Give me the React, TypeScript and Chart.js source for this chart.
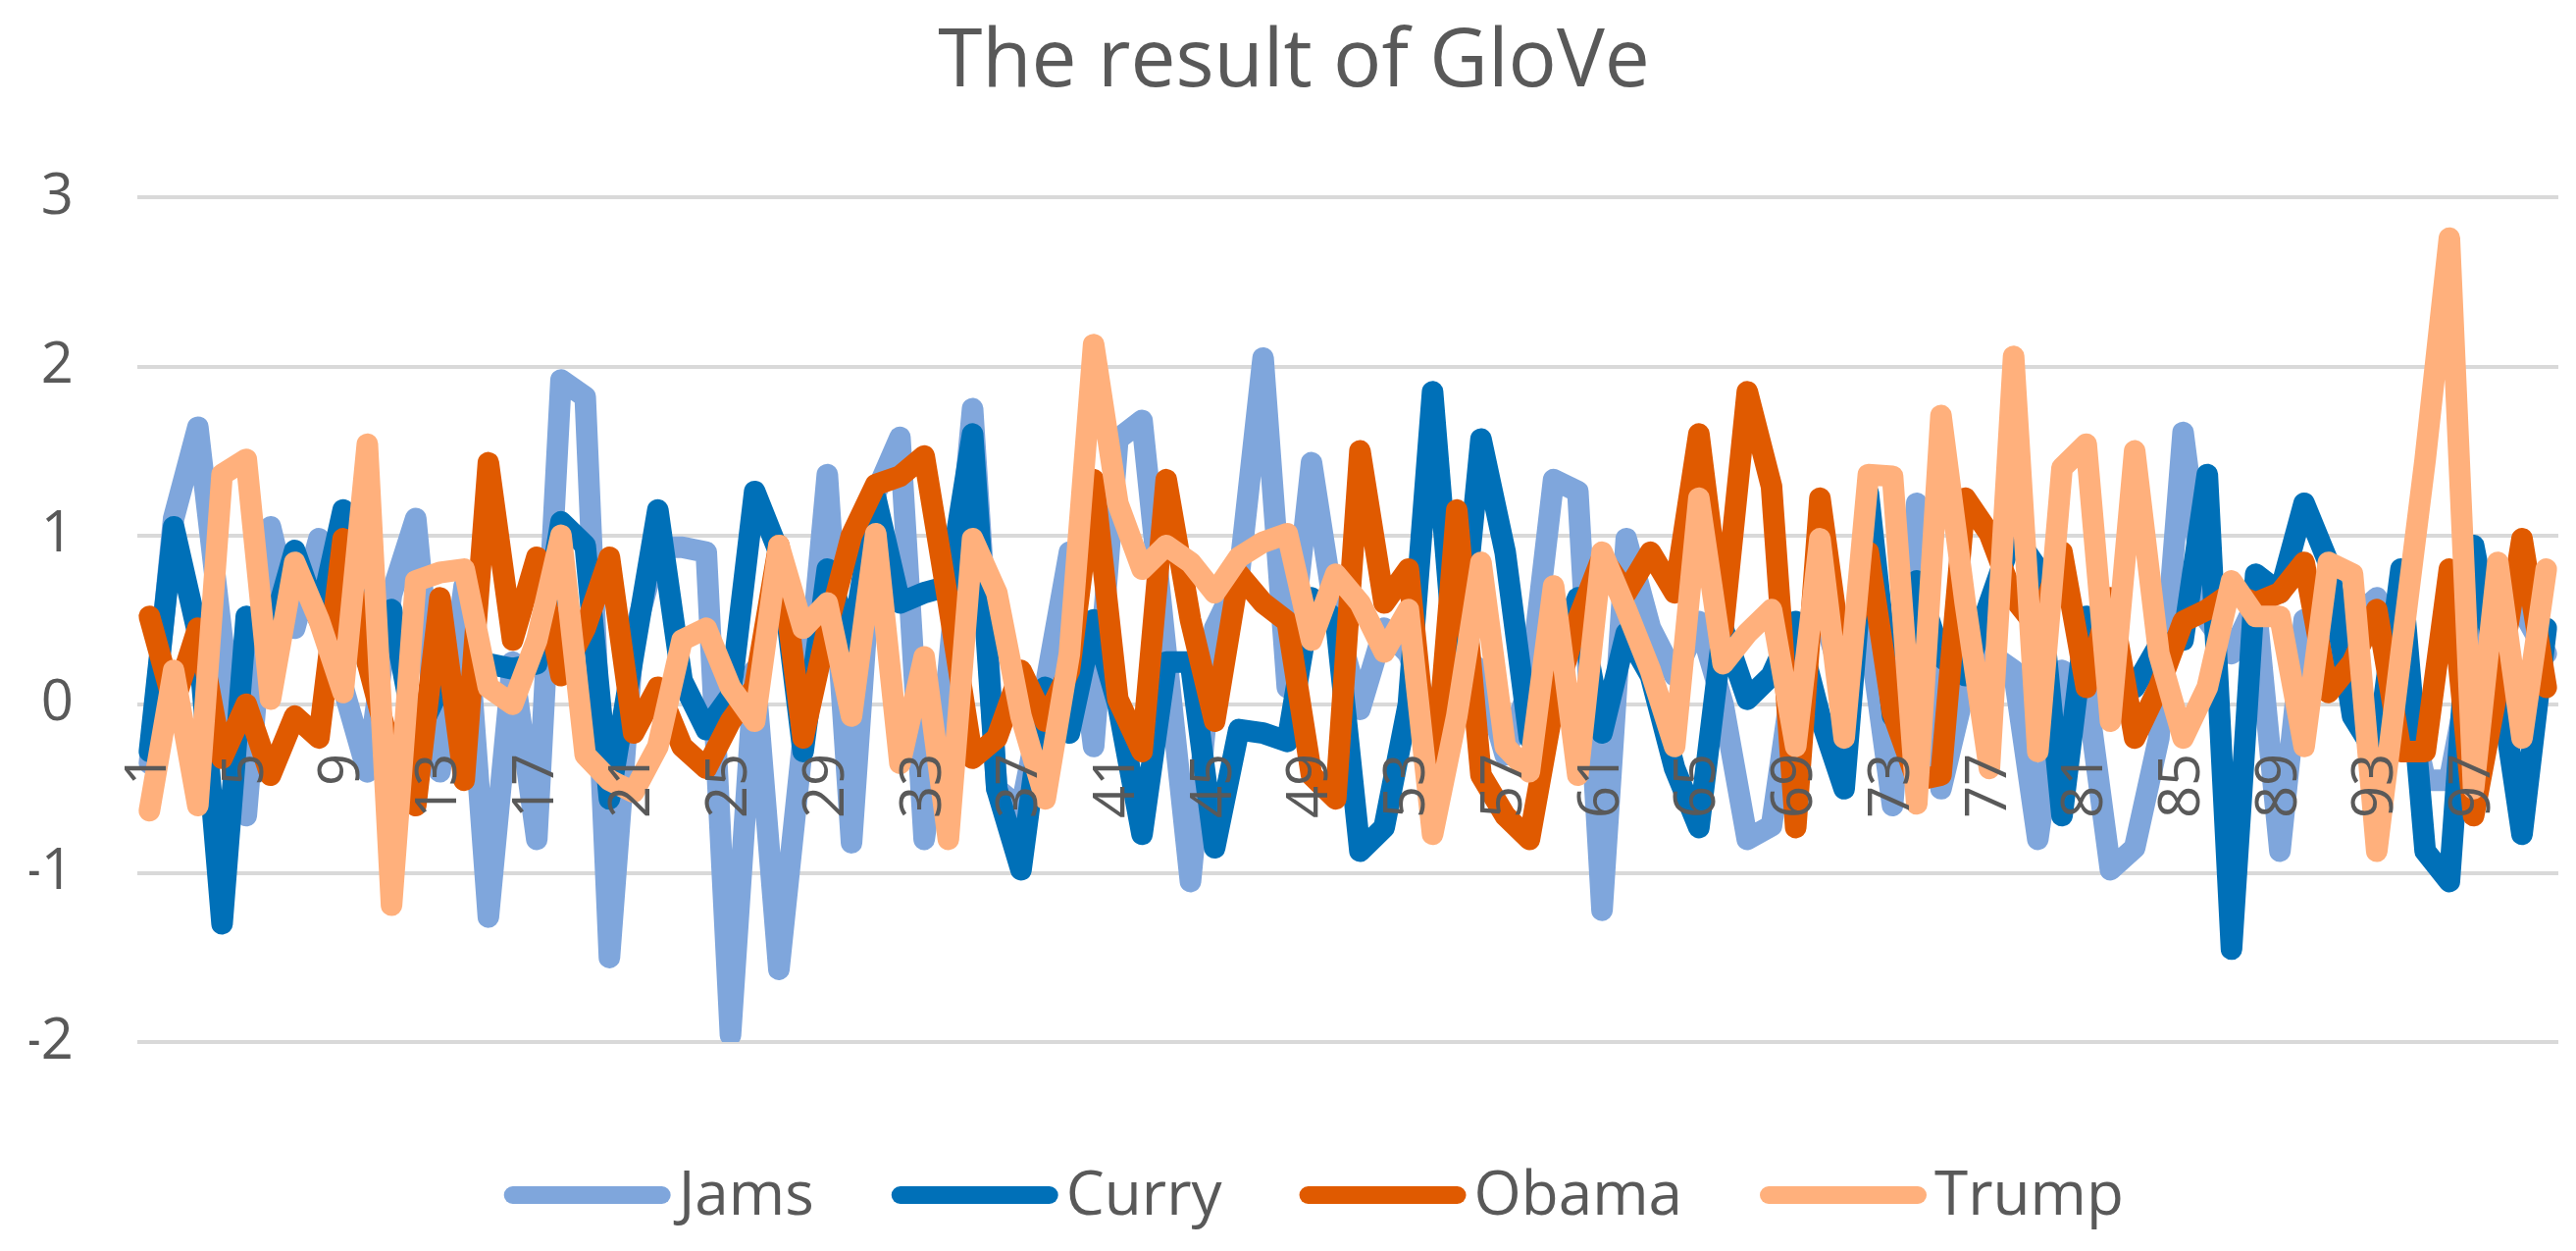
import React, { useEffect, useRef } from 'react';
import { Chart, registerables } from 'chart.js';

Chart.register(...registerables);

const title = 'The result of GloVe';

const categories = [
  '1','2','3','4','5','6','7','8','9','10','11','12','13','14','15','16','17','18','19','20',
  '21','22','23','24','25','26','27','28','29','30','31','32','33','34','35','36','37','38','39','40',
  '41','42','43','44','45','46','47','48','49','50','51','52','53','54','55','56','57','58','59','60',
  '61','62','63','64','65','66','67','68','69','70','71','72','73','74','75','76','77','78','79','80',
  '81','82','83','84','85','86','87','88','89','90','91','92','93','94','95','96','97','98','99','100',
];

const jams = [
  -0.35, 1.1, 1.64, 0.4, -0.66, 1.05, 0.45, 0.98, 0.1, -0.4,
  0.65, 1.1, -0.4, 0.7, -1.26, 0.25, -0.8, 1.92, 1.82, -1.5,
  0.4, 0.93, 0.93, 0.9, -1.96, 0.2, -1.57, -0.2, 1.36, -0.82,
  1.25, 1.58, -0.8, 0.2, 1.75, -0.5, -0.62, 0.1, 0.9, -0.25,
  1.57, 1.68, 0.3, -1.05, 0.45, 0.75, 2.05, 0.1, 1.43, 0.5,
  -0.03, 0.45, 0.3, -0.1, 0.3, 0.2, -0.3, 0.1, 1.33, 1.26,
  -1.22, 0.98, 0.45, 0.17, 0.49, 0.0, -0.8, -0.72, 0.28, 0.6,
  0.1, 0.45, -0.6, 1.19, -0.5, 0.1, 0.3, 0.2, -0.8, 0.2,
  0.1, -0.98, -0.85, -0.2, 1.61, 0.5, 0.3, 0.6, -0.87, 0.5,
  0.31, 0.5, 0.63, 0.2, -0.45, -0.45, 0.3, 0.6, 0.56, 0.3,
];

const curry = [
  -0.28, 1.05, 0.42, -1.3, 0.52, 0.4, 0.91, 0.5, 1.15, 0.25,
  0.56, -0.2, 0.1, 0.05, 0.24, 0.21, 0.24, 1.08, 0.94, -0.56,
  0.3, 1.15, 0.14, -0.15, 0.05, 1.26, 0.9, -0.28, 0.8, 0.35,
  1.22, 0.6, 0.66, 0.7, 1.6, -0.5, -0.98, 0.1, -0.17, 0.5,
  0.0, -0.77, 0.25, 0.25, -0.85, -0.15, -0.17, -0.22, 0.63, 0.5,
  -0.87, -0.73, 0.0, 1.85, 0.1, 1.57, 0.9, -0.2, 0.28, 0.63,
  -0.17, 0.42, 0.17, -0.38, -0.73, 0.45, 0.03, 0.17, 0.49, -0.07,
  -0.5, 1.25, -0.07, 0.73, 0.28, 0.17, 0.6, 1.01, 0.8, -0.66,
  0.52, 0.1, 0.1, 0.35, 0.38, 1.36, -1.45, 0.77, 0.66, 1.19,
  0.84, -0.07, -0.3, 0.8, -0.87, -1.05, 0.94, 0.2, -0.77, 0.45,
];

const obama = [
  0.52, 0.0, 0.45, -0.32, 0.0, -0.42, -0.07, -0.2, 0.98, 0.25,
  -0.3, -0.6, 0.63, -0.45, 1.43, 0.38, 0.87, 0.17, 0.45, 0.87,
  -0.17, 0.1, -0.25, -0.38, -0.1, 0.1, 0.94, -0.2, 0.45, 1.0,
  1.3, 1.35, 1.47, 0.6, -0.32, -0.2, 0.2, -0.1, 0.2, 1.33,
  0.03, -0.28, 1.33, 0.5, -0.1, 0.77, 0.6, 0.49, -0.42, -0.56,
  1.5, 0.6, 0.8, -0.6, 1.15, -0.42, -0.66, -0.8, 0.0, 0.5,
  0.87, 0.66, 0.9, 0.66, 1.6, 0.45, 1.85, 1.29, -0.73, 1.22,
  0.17, 0.9, -0.05, -0.45, -0.42, 1.22, 1.01, 0.63, 0.45, 0.9,
  0.1, 0.63, -0.2, 0.1, 0.49, 0.56, 0.66, 0.6, 0.66, 0.84,
  0.07, 0.25, 0.56, -0.28, -0.28, 0.8, -0.66, 0.1, 0.98, 0.1,
];

const trump = [
  -0.63, 0.2, -0.6, 1.36, 1.45, 0.03, 0.84, 0.5, 0.07, 1.54,
  -1.19, 0.73, 0.78, 0.8, 0.1, 0.0, 0.38, 1.0, -0.3, -0.45,
  -0.52, -0.25, 0.38, 0.45, 0.1, -0.1, 0.94, 0.45, 0.6, -0.07,
  1.01, -0.35, 0.28, -0.8, 0.98, 0.66, -0.07, -0.56, 0.3, 2.13,
  1.19, 0.8, 0.94, 0.84, 0.66, 0.87, 0.96, 1.01, 0.38, 0.77,
  0.6, 0.31, 0.56, -0.77, -0.07, 0.84, -0.25, -0.4, 0.7, -0.42,
  0.9, 0.56, 0.2, -0.25, 1.22, 0.24, 0.42, 0.56, -0.25, 0.98,
  -0.2, 1.36, 1.35, -0.59, 1.71, 0.6, -0.38, 2.06, -0.28, 1.4,
  1.54, -0.1, 1.5, 0.3, -0.2, 0.1, 0.73, 0.52, 0.52, -0.25,
  0.84, 0.77, -0.87, 0.3, 1.45, 2.76, -0.5, 0.84, -0.2, 0.8,
];

const seriesNames = ['Jams', 'Curry', 'Obama', 'Trump'];
const seriesColors = ['#7FA6DC', '#0070B8', '#E05A00', '#FFB07C'];
const yTicks = [-2, -1, 0, 1, 2, 3];

const TEXT = '#595959';
const FONT = '"Open Sans", "Noto Sans", sans-serif';

// Excel-style legend: long rounded line swatch, tight gap to the text.
const excelLegend = {
  id: 'excelLegend',
  afterDraw(chart: any) {
    const ctx = chart.ctx as CanvasRenderingContext2D;
    const fontSize = 62;
    const swatch = 170;
    const swatchW = 18;
    const textGap = 8;
    const itemGap = 79;
    const centerX = chart.width * 0.51;
    const lineY = chart.height - 57;
    ctx.save();
    ctx.font = `${fontSize}px ${FONT}`;
    const items = chart.data.datasets.map((d: any) => ({
      text: String(d.label),
      color: d.borderColor as string,
      w: ctx.measureText(String(d.label)).width,
    }));
    const total =
      items.reduce((s: number, it: any) => s + swatch + textGap + it.w, 0) + itemGap * (items.length - 1);
    let x = centerX - total / 2;
    ctx.textBaseline = 'middle';
    ctx.textAlign = 'left';
    for (const it of items) {
      ctx.beginPath();
      ctx.lineCap = 'round';
      ctx.lineWidth = swatchW;
      ctx.strokeStyle = it.color;
      ctx.moveTo(x + swatchW / 2, lineY);
      ctx.lineTo(x + swatch - swatchW / 2, lineY);
      ctx.stroke();
      ctx.fillStyle = TEXT;
      ctx.fillText(it.text, x + swatch + textGap, lineY + 2);
      x += swatch + textGap + it.w + itemGap;
    }
    ctx.restore();
  },
};

export default function App() {
  const ref = useRef<HTMLCanvasElement | null>(null);

  useEffect(() => {
    if (!ref.current) return;
    const values = [jams, curry, obama, trump];
    const chart = new Chart(ref.current, {
      type: 'line',
      data: {
        labels: categories,
        datasets: values.map((v, i) => ({
          label: seriesNames[i],
          data: v,
          borderColor: seriesColors[i],
          backgroundColor: seriesColors[i],
          borderWidth: 22,
          pointRadius: 0,
          pointHoverRadius: 0,
          tension: 0,
          borderJoinStyle: 'round' as const,
          borderCapStyle: 'round' as const,
          fill: false,
          order: 4 - i,
        })),
      },
      options: {
        responsive: false,
        animation: false,
        devicePixelRatio: 1,
        layout: { padding: { left: 30, right: 18, top: 0, bottom: 0 } },
        plugins: {
          tooltip: { enabled: false },
          legend: { display: false },
          title: {
            display: true,
            text: title,
            color: TEXT,
            font: { family: FONT, size: 82, weight: 'normal' },
            padding: { top: 15, bottom: 88 },
          },
        },
        scales: {
          x: {
            type: 'category',
            position: { y: 0 } as any,
            offset: true,
            grid: { display: false, drawTicks: false },
            border: { display: false },
            ticks: {
              z: 1,
              autoSkip: false,
              minRotation: 90,
              maxRotation: 90,
              padding: 50,
              color: TEXT,
              font: { family: FONT, size: 58 },
              callback: (_v: any, i: number) => (i % 4 === 0 ? categories[i] : ''),
            },
            afterFit: (s: any) => {
              s.paddingLeft = 0;
              s.paddingRight = 0;
            },
          },
          xPad: {
            type: 'category',
            position: 'bottom',
            display: true,
            grid: { display: false, drawTicks: false },
            border: { display: false },
            ticks: { display: false },
            afterFit: (s: any) => {
              s.height = 213;
              s.paddingLeft = 0;
              s.paddingRight = 0;
            },
          },
          y: {
            min: -2,
            max: 3,
            afterBuildTicks: (s: any) => {
              s.ticks = yTicks.map((v) => ({ value: v }));
            },
            grid: { color: '#D9D9D9', lineWidth: 4, drawTicks: false },
            border: { display: false },
            ticks: {
              padding: 65,
              color: TEXT,
              font: { family: FONT, size: 58 },
            },
            afterFit: (s: any) => {
              s.width = 110;
            },
          },
        },
      },
      plugins: [excelLegend],
    });
    return () => chart.destroy();
  }, []);

  return (
    <div style={{ position: 'fixed', left: 0, top: 0, width: 2626, height: 1275, background: '#ffffff' }}>
      <canvas ref={ref} width={2626} height={1275} style={{ width: 2626, height: 1275, display: 'block' }} />
    </div>
  );
}
